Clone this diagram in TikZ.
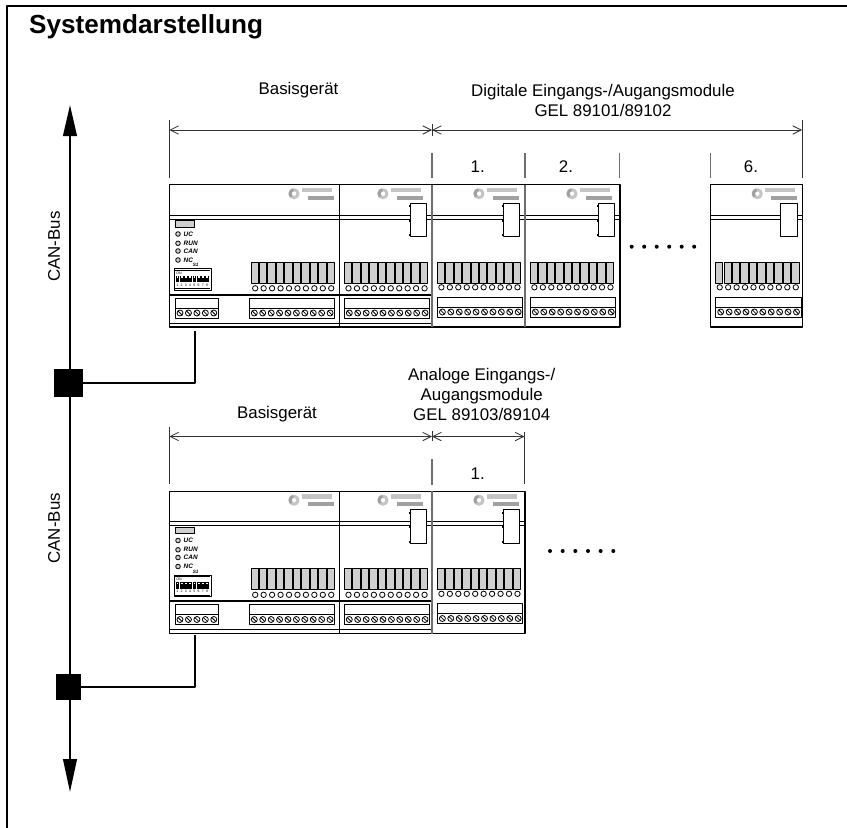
\documentclass[tikz,border=0pt]{standalone}
\usepackage{fontspec}
\setmainfont{Liberation Sans}
\usetikzlibrary{arrows.meta}

\definecolor{termgrey}{HTML}{CFCFCF}
\definecolor{logogrey}{HTML}{C4C4C4}
\definecolor{logodark}{HTML}{A0A0A0}
\definecolor{tickgrey}{HTML}{6E6E6E}

% logo mark: #1 = x of the round part
\newcommand{\logomark}[1]{
  \draw[logoring] (#1,193.7) circle[radius=4];
  \draw[logoring,draw=logodark] (#1-2.83,196.53) arc[start angle=135,end angle=260,radius=4];
  \fill[logobar] (#1+8,187.5) rectangle (#1+38,192);
  \fill[logobar,fill=logodark] (#1+14,195.5) rectangle (#1+40,199.5);
}
% ten terminals with lamps and a screw block: #1 = terminal x, #2 = box x, #3 = shift in y
\newcommand{\ioblock}[3]{
  \foreach \i in {0,...,9} {
    \pgfmathsetmacro{\tx}{#1+8.45*\i}
    \draw[terminal] (\tx,262.3) rectangle (\tx+7.4,283.3);
    \draw[lamp] (\tx+4.2,288.3+#3) circle[radius=2.7];
  }
  \draw[screwbox] (#2,298.3+#3) rectangle (#2+85.3,318.3+#3);
  \draw[thinline] (#2,308.3+#3) -- (#2+85.3,308.3+#3);
  \foreach \i in {0,...,9} {
    \pgfmathsetmacro{\sx}{#2+5+8.42*\i}
    \draw[screw] (\sx,313+#3) circle[radius=3];
    \draw[thinline] (\sx-2,311+#3) -- (\sx+2,315+#3);
  }
}
% plug-in block at the top of a module: #1 = left x
\newcommand{\plugblock}[1]{
  \draw[screwbox,fill=white] (#1,203) rectangle (#1+16.6,236.5);
  \foreach \ny in {205,219.5,234} {
    \draw[notch] (#1,\ny) -- (#1,\ny+2);
  }
}
% expansion module: #1 = left x, #2 = right x
\newcommand{\expmodule}[2]{
  \draw[housing] (#1,184.7) rectangle (#2,327);
  \draw[thinline] (#1,215.3) -- (#2,215.3);
  \draw[thinline] (#1,219.3) -- (#2,219.3);
  \logomark{#1+47}
  \plugblock{#2-21.7}
  \ioblock{#1+5.2}{#1+5.4}{-1}
}
% base unit with its two blocks
\newcommand{\baseunit}{
  \draw[housing] (169.3,184.7) rectangle (432,327);
  \draw[thinline] (169.3,215.3) -- (432,215.3);
  \draw[thinline] (169.3,219.3) -- (432,219.3);
  \draw[heavyline] (169.3,294.7) -- (432,294.7);
  \draw[thinline] (169.3,323.3) -- (432,323.3);
  \draw[housing] (339.3,184.7) -- (339.3,327);
  \logomark{294}
  \logomark{383}
  \plugblock{410}
  \ioblock{251}{249.3}{0}
  \ioblock{344.3}{344.3}{0}

  \draw[screwbox,fill=termgrey] (175.3,220.7) rectangle (194.7,227.3);
  \foreach \ly/\lt in {234/UC,243.3/RUN,251/CAN,260/NC} {
    \draw[lamp,fill=termgrey] (178,\ly) circle[radius=2.3];
    \node[ledlabel] (led\lt) at (183.5,\ly) {\lt};
  }
  \node[tinylabel] (dipname) at (195.7,265.3) {S1};
  \draw[screwbox] (174,268.7) rectangle (211,290);
  \draw[thinline] (175.3,270.2) -- (209.7,270.2);
  \draw[thinline] (175.3,288.4) -- (209.7,288.4);
  \node[diplabel] (dipon) at (179,273.2) {ON};
  \foreach \i in {1,...,8} {
    \pgfmathsetmacro{\dx}{173.2+4.25*\i}
    \fill (\dx-1.8,275.6) rectangle (\dx+1.8,282.4);
    \fill[white] (\dx-0.8,276.2) rectangle (\dx+0.8,277.6);
    \node[diplabel] (dip\i) at (\dx,285.2) {\i};
  }

  \draw[screwbox] (175.3,298.3) rectangle (218.3,318.3);
  \draw[thinline] (175.3,308.3) -- (218.3,308.3);
  \foreach \i in {0,...,4} {
    \pgfmathsetmacro{\sx}{180+8.45*\i}
    \draw[screw] (\sx,313) circle[radius=3];
    \draw[thinline] (\sx-2,311) -- (\sx+2,315);
  }
}

\begin{document}
\begin{tikzpicture}[
  x=0.3mm,
  y=-0.3mm,
  line join=round,
  frameline/.style={draw=black,line width=0.85mm},
  bus/.style={draw=black,line width=0.6mm},
  busboth/.style={bus,{Triangle[length=9.3mm,width=4.1mm]}-{Triangle[length=9.9mm,width=4.1mm]}},
  joint/.style={rectangle,fill=black,inner sep=0pt},
  dimline/.style={draw=black!80,line width=0.26mm,{Straight Barb[length=2.5mm,width=2.5mm]}-{Straight Barb[length=2.5mm,width=2.5mm]}},
  extline/.style={draw=black!80,line width=0.26mm},
  tickline/.style={draw=tickgrey,line width=0.35mm},
  housing/.style={draw=black,line width=0.36mm},
  seam/.style={draw=tickgrey,line width=0.4mm},
  thinline/.style={draw=black,line width=0.24mm},
  heavyline/.style={draw=black,line width=0.5mm},
  terminal/.style={draw=black,line width=0.26mm,fill=termgrey},
  lamp/.style={draw=black,line width=0.24mm,fill=white},
  screwbox/.style={draw=black,line width=0.28mm},
  screw/.style={draw=black,line width=0.24mm,fill=white},
  notch/.style={draw=black,line width=0.5mm},
  logoring/.style={draw=logogrey,line width=0.9mm},
  logobar/.style={fill=logogrey},
  textlabel/.style={font=\fontsize{14.4}{17}\selectfont,align=center,inner sep=0pt},
  ledlabel/.style={font=\fontsize{5.5}{6}\selectfont\bfseries\itshape,anchor=west,inner sep=0pt},
  tinylabel/.style={font=\fontsize{4}{5}\selectfont\bfseries\itshape,inner sep=0pt},
  diplabel/.style={font=\fontsize{3}{4}\selectfont,inner sep=0pt},
  dotmark/.style={fill=black}
]
  \useasboundingbox (0,0) rectangle (847,828);
  \fill[white] (0,0) rectangle (847,828);

  \draw[frameline] (7,828) -- (7,6) -- (847,6);
  \node[font=\fontsize{22.3}{26}\selectfont\bfseries,anchor=base west,inner sep=0pt] (title) at (29,33.5) {Systemdarstellung};

  % bus and its two branches
  \coordinate (Bustop) at (70,105);
  \coordinate (Busend) at (70,792);
  \coordinate (Tapa) at (194.5,331);
  \coordinate (Tapb) at (194.5,635);
  \node[joint,minimum width=8.5mm,minimum height=8.5mm] (Jointa) at (68.5,383) {};
  \node[joint,minimum width=7.5mm,minimum height=7.8mm] (Jointb) at (68.5,687) {};
  \draw[busboth] (Bustop) -- (Busend);
  \draw[bus] (Jointa.east) -| (Tapa);
  \draw[bus] (Jointb.east) -| (Tapb);
  \node[textlabel,rotate=90] (busa) at (54,246.7) {CAN-Bus};
  \node[textlabel,rotate=90] (busb) at (54,528.3) {CAN-Bus};

  % upper row
  \begin{scope}[name prefix=up-]
    \baseunit
    \expmodule{432}{525}
    \expmodule{525}{620}
    \expmodule{710.3}{802.3}
    \draw[seam] (432,184.7) -- (432,327);
    \draw[seam] (525,184.7) -- (525,327);
  \end{scope}
  % lower row
  \begin{scope}[shift={(0,306.5)},name prefix=low-]
    \baseunit
    \expmodule{432}{525}
    \draw[seam] (432,184.7) -- (432,327);
  \end{scope}

  % upper dimensions
  \coordinate (Dima0) at (169.3,130);
  \coordinate (Dima1) at (432,130);
  \coordinate (Dima2) at (802,130);
  \draw[dimline] (Dima0) -- (Dima1);
  \draw[dimline] (Dima1) -- (Dima2);
  \draw[extline] (169.3,120) -- (169.3,178.3);
  \draw[extline] (802,120) -- (802,178.3);
  \draw[extline] (432,124) -- (432,136);
  \foreach \tx in {432,525,619.5,710.3} {
    \draw[tickline] (\tx,153.3) -- (\tx,178);
  }
  \node[textlabel] (basea) at (298.5,90) {Basisgerät};
  \node[textlabel] (digital) at (603,100.7) {Digitale Eingangs-/Augangsmodule\\GEL 89101/89102};
  \node[textlabel] (numa1) at (477.7,166.7) {1.};
  \node[textlabel] (numa2) at (566,166.7) {2.};
  \node[textlabel] (numa6) at (751,166.7) {6.};
  \foreach \i in {0,...,5} {
    \fill[dotmark] (631.7+12.5*\i,246.7) circle[radius=2];
  }

  % lower dimensions
  \coordinate (Dimb0) at (169.3,436.5);
  \coordinate (Dimb1) at (432,436.5);
  \coordinate (Dimb2) at (524.5,436.5);
  \draw[dimline] (Dimb0) -- (Dimb1);
  \draw[dimline] (Dimb1) -- (Dimb2);
  \draw[extline] (169.3,426.7) -- (169.3,484.3);
  \draw[extline] (524.5,431.5) -- (524.5,484.3);
  \draw[extline] (432,431) -- (432,441);
  \draw[tickline] (432,459.3) -- (432,485);
  \node[textlabel] (baseb) at (277,414) {Basisgerät};
  \node[textlabel] (analog) at (481.7,394.3) {Analoge Eingangs-/\\Augangsmodule\\GEL 89103/89104};
  \node[textlabel] (numb1) at (477.7,473.3) {1.};
  \foreach \i in {0,...,5} {
    \fill[dotmark] (550+12.66*\i,551) circle[radius=2];
  }
\end{tikzpicture}
\end{document}
